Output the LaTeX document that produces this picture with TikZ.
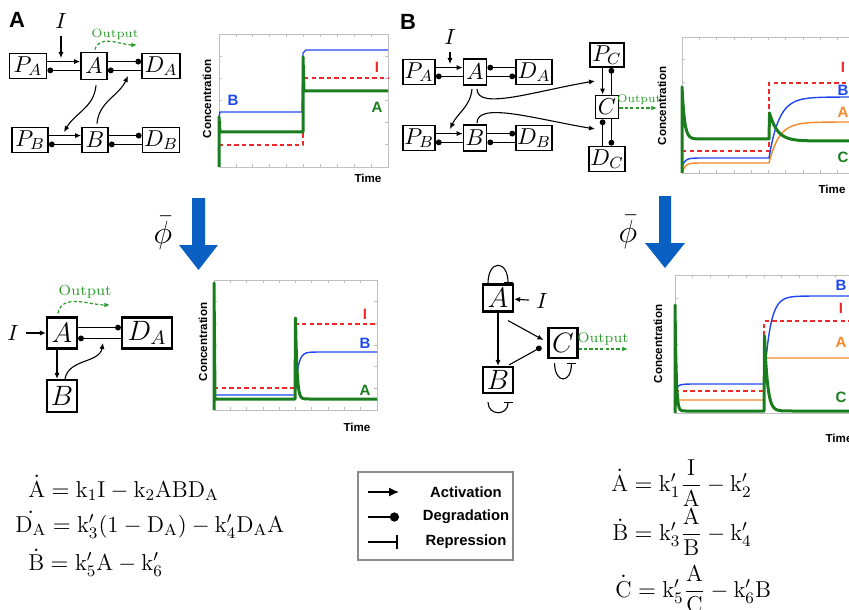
\RequirePackage{fix-cm}
\documentclass[tikz,border=0pt]{standalone}
\usepackage{amsmath}
\usepackage{fontspec}
\setsansfont{Liberation Sans}
\usetikzlibrary{arrows.meta}

\definecolor{concgreen}{RGB}{25,125,30}
\definecolor{concblue}{RGB}{30,70,240}
\definecolor{concred}{RGB}{240,40,40}
\definecolor{concorange}{RGB}{245,135,40}
\definecolor{outgreen}{RGB}{40,155,40}
\definecolor{arrowblue}{RGB}{10,95,195}

\tikzset{
  species/.style={draw, line width=0.9pt, inner sep=0pt, minimum width=13pt,
    minimum height=12.5pt, font=\fontsize{11.5}{12}\selectfont},
  bigspecies/.style={species, line width=1.1pt, minimum width=15pt,
    minimum height=15.5pt, font=\fontsize{14}{16}\selectfont},
  inputlab/.style={font=\fontsize{11}{12}\selectfont},
  act/.style={-{Latex[length=3pt,width=2.6pt]}, line width=0.55pt},
  deg/.style={-{Circle[length=2.9pt]}, line width=0.55pt},
  rep/.style={-{Bar[width=4.5pt]}, line width=0.55pt},
  outarrow/.style={-{Latex[length=2.8pt,width=2.4pt]}, outgreen, line width=0.6pt,
    dash pattern=on 1.6pt off 1.1pt},
  outtext/.style={text=outgreen, font=\fontsize{6}{7}\selectfont},
  panel/.style={font=\sffamily\bfseries\fontsize{11}{12}\selectfont},
  axlab/.style={font=\sffamily\bfseries\fontsize{5.8}{6}\selectfont},
  curvelab/.style={font=\sffamily\bfseries\fontsize{7.5}{8}\selectfont},
  axesframe/.style={draw=black!25, line width=0.4pt},
  gline/.style={concgreen, line width=1.5pt, line join=round},
  bline/.style={concblue, line width=0.7pt},
  oline/.style={concorange, line width=0.7pt},
  rline/.style={concred, line width=0.7pt, dash pattern=on 2.2pt off 1.6pt},
  eqn/.style={inner sep=0pt, anchor=base west, font=\fontsize{11.5}{14}\selectfont},
  legtext/.style={font=\sffamily\bfseries\fontsize{7.4}{8}\selectfont},
}

% frame of a concentration plot: x0, y0, x1, y1
\newcommand{\concbox}[4]{%
  \draw[axesframe] (#1,#2) rectangle (#3,#4);
  \foreach \k in {1,...,9}
    \draw[axesframe] ({#1+(#3-#1)*\k/10},#2) -- ++(0,3) ({#1+(#3-#1)*\k/10},#4) -- ++(0,-3);
  \foreach \k in {1,...,5}
    \draw[axesframe] (#1,{#2+(#4-#2)*\k/6}) -- ++(3,0) (#3,{#2+(#4-#2)*\k/6}) -- ++(-3,0);
}

\begin{document}
\begin{tikzpicture}[x=0.5pt,y=-0.5pt]
  \useasboundingbox (0,0) rectangle (849,609);

  % Panel A: full network
  \node[panel] at (17,20) {A};
  \node[species, minimum width=18.5pt] (PA1) at (28,66) {$P_A$};
  \node[species, minimum height=13.5pt] (A1) at (94,66) {$A$};
  \node[species, minimum width=19pt] (DA1) at (161,66) {$D_A$};
  \node[species, minimum width=18pt] (PB1) at (30,140) {$P_B$};
  \node[species] (B1) at (95,140) {$B$};
  \node[species, minimum width=18.5pt] (DB1) at (161,140) {$D_B$};
  \node[inputlab] (I1) at (61,21) {$I$};
  \coordinate (pa1in) at (61,58);
  \coordinate (pb1in) at (64,132);
  \coordinate (da1in) at (128,76);
  \coordinate (out1) at (137,45);
  \node[outtext] at (115,34) {Output};

  \draw[act] ([yshift=2.2pt]PA1.east) -- ([yshift=2.2pt]A1.west);
  \draw[deg] ([yshift=-2.2pt]A1.west) -- ([yshift=-2.2pt]PA1.east);
  \draw[deg] ([yshift=2.2pt]A1.east) -- ([yshift=2.2pt]DA1.west);
  \draw[deg] ([yshift=-2.2pt]DA1.west) -- ([yshift=-2.2pt]A1.east);
  \draw[act] ([yshift=2.2pt]PB1.east) -- ([yshift=2.2pt]B1.west);
  \draw[deg] ([yshift=-2.2pt]B1.west) -- ([yshift=-2.2pt]PB1.east);
  \draw[deg] ([yshift=2.2pt]B1.east) -- ([yshift=2.2pt]DB1.west);
  \draw[deg] ([yshift=-2.2pt]DB1.west) -- ([yshift=-2.2pt]B1.east);
  \draw[act] (I1) -- (pa1in);
  \draw[act] ([xshift=1pt,yshift=-2.5pt]A1.south) to[out=-95,in=60] (pb1in);
  \draw[act] ([xshift=1pt,yshift=1.5pt]B1.north) to[out=85,in=-115] (da1in);
  \draw[outarrow] ([xshift=0.5pt,yshift=1pt]A1.north) to[out=75,in=180] (out1);

  % Panel A: time course
  \concbox{219}{34}{388}{167}
  \draw[rline] (219,145) -- (303,145) -- (303,78) -- (388,78);
  \draw[bline] (219,117) -- (220,112) -- (302,112) -- (303,53) -- (306,50) -- (388,50);
  \draw[gline] (219,167) -- (219,117) -- (220,132) -- (303,132) -- (303,57) -- (304,91) -- (388,91);
  \node[curvelab, concblue] at (233,100) {B};
  \node[curvelab, concred] at (377,67) {I};
  \node[curvelab, concgreen] at (377,107) {A};
  \node[axlab, rotate=90] at (207,99) {Concentration};
  \node[axlab] at (368,178) {Time};

  % Panel B: full network
  \node[panel] at (408,22) {B};
  \node[species, minimum width=16pt] (PA2) at (419,72) {$P_A$};
  \node[species, minimum width=11.5pt, minimum height=13pt] (A2) at (475,72) {$A$};
  \node[species, minimum width=18pt] (DA2) at (534,72) {$D_A$};
  \node[species, minimum width=16pt] (PB2) at (419,138) {$P_B$};
  \node[species, minimum width=11.5pt, minimum height=13pt] (B2) at (475,138) {$B$};
  \node[species, minimum width=18pt] (DB2) at (534,138) {$D_B$};
  \node[species, minimum width=17pt, minimum height=12pt] (PC) at (607,55) {$P_C$};
  \node[species, minimum width=11.5pt, minimum height=11.5pt] (C) at (607,107) {$C$};
  \node[species, minimum width=18pt] (DC) at (607,159) {$D_C$};
  \node[inputlab] (I2) at (450,37) {$I$};
  \coordinate (pa2in) at (450,64);
  \coordinate (pb2in) at (450,129);
  \coordinate (pc2in) at (595,81);
  \coordinate (dc2in) at (595,129);
  \coordinate (out2) at (657,108);
  \node[outtext, font=\fontsize{5.6}{6}\selectfont] at (639,100) {Output};

  \draw[act] ([yshift=2.2pt]PA2.east) -- ([yshift=2.2pt]A2.west);
  \draw[deg] ([yshift=-2.2pt]A2.west) -- ([yshift=-2.2pt]PA2.east);
  \draw[deg] ([yshift=2.2pt]DA2.west) -- ([yshift=2.2pt]A2.east);
  \draw[deg] ([yshift=-2.2pt]A2.east) -- ([yshift=-2.2pt]DA2.west);
  \draw[act] ([yshift=2.2pt]PB2.east) -- ([yshift=2.2pt]B2.west);
  \draw[deg] ([yshift=-2.2pt]B2.west) -- ([yshift=-2.2pt]PB2.east);
  \draw[deg] ([yshift=2.2pt]B2.east) -- ([yshift=2.2pt]DB2.west);
  \draw[deg] ([yshift=-2.2pt]DB2.west) -- ([yshift=-2.2pt]B2.east);
  \draw[act] ([xshift=-2.2pt]PC.south) -- ([xshift=-2.2pt]C.north);
  \draw[deg] ([xshift=2.2pt]C.north) -- ([xshift=2.2pt]PC.south);
  \draw[deg] ([xshift=-2.2pt]DC.north) -- ([xshift=-2.2pt]C.south);
  \draw[deg] ([xshift=2.2pt]C.south) -- ([xshift=2.2pt]DC.north);
  \draw[act] (I2) -- (pa2in);
  \draw[act] ([xshift=-1.5pt,yshift=-1.5pt]A2.south) to[out=-95,in=65] (pb2in);
  \draw[act] ([xshift=1pt,yshift=-1.5pt]A2.south) .. controls +(0,22) and +(-60,10) .. (pc2in);
  \draw[act] ([xshift=1pt,yshift=0.5pt]B2.north) .. controls +(0,-22) and +(-60,-10) .. (dc2in);
  \draw[outarrow] ([yshift=-0.5pt]C.east) -- (out2);

  % Panel B: time course
  \concbox{682}{37}{855}{173}
  \draw[rline] (682,151) -- (769,151) -- (769,83) -- (856,83);
  \draw[oline] plot[domain=682:712,samples=30] (\x,{163+10*exp(-(\x-682)/3)}) -- (769,163)
    -- plot[domain=769:860,samples=50] (\x,{122+41*exp(-(\x-769)/10)});
  \draw[bline] plot[domain=682:712,samples=30] (\x,{158+9*exp(-(\x-682)/3)}) -- (769,158)
    -- plot[domain=769:860,samples=50] (\x,{97+61*exp(-(\x-769)/10)});
  \draw[gline] (682,173) -- plot[domain=682:707,samples=40] (\x,{139-52*exp(-(\x-682)/2.5)})
    -- (769,139) -- (769.5,113)
    -- plot[domain=769.5:845,samples=50] (\x,{141-28*exp(-(\x-769.5)/8)}) -- (856,141);
  \node[curvelab, concred] at (843,67) {I};
  \node[curvelab, concblue] at (843,90) {B};
  \node[curvelab, concorange] at (843,112) {A};
  \node[curvelab, concgreen] at (843,157) {C};
  \node[axlab, rotate=90] at (662,106) {Concentration};
  \node[axlab] at (832,189) {Time};

  % Reduction arrows
  \node[font=\fontsize{16}{18}\selectfont] at (163,233) {$\bar{\phi}$};
  \fill[arrowblue] (192,198) -- (205,198) -- (205,245) -- (218,245) -- (198.5,270)
    -- (179,245) -- (192,245) -- cycle;
  \node[font=\fontsize{16}{18}\selectfont] at (628,232) {$\bar{\phi}$};
  \fill[arrowblue] (659,196) -- (671,196) -- (671,243) -- (685,243) -- (665,268)
    -- (645,243) -- (659,243) -- cycle;

  % Panel A: reduced network
  \node[inputlab] (I3) at (13,333) {$I$};
  \node[bigspecies] (A3) at (62,333) {$A$};
  \node[bigspecies, minimum width=25pt] (DA3) at (147,333) {$D_A$};
  \node[bigspecies, minimum height=16pt] (B3) at (62,396) {$B$};
  \coordinate (da3in) at (103,343);
  \coordinate (out3) at (110,305);
  \node[outtext, font=\fontsize{7.3}{8}\selectfont] at (85,292) {Output};

  \draw[act] (I3) -- (A3);
  \draw[deg] ([yshift=2.7pt]A3.east) -- ([yshift=2.7pt]DA3.west);
  \draw[deg] ([yshift=-2.7pt]DA3.west) -- ([yshift=-2.7pt]A3.east);
  \draw[act] ([xshift=-2.5pt]A3.south) -- ([xshift=-2.5pt]B3.north);
  \draw[act] ([xshift=1.5pt]B3.north) to[out=80,in=-100] (da3in);
  \draw[outarrow] ([xshift=-2pt,yshift=1.5pt]A3.north) to[out=80,in=180] (out3);

  % Panel A: reduced time course
  \concbox{214}{280}{377}{410}
  \draw[rline] (214,388) -- (295,388) -- (295,324) -- (377,324);
  \draw[bline] (215,395) -- (295,395)
    -- plot[domain=295:325,samples=40] (\x,{352+43*exp(-(\x-295)/3)}) -- (377,352);
  \draw[gline] (214,410) -- (214,283) -- (215,399) -- (295,399) -- (295.5,318)
    -- plot[domain=295.5:310,samples=30] (\x,{399-81*exp(-(\x-295.5)/1.5)}) -- (377,399);
  \node[curvelab, concred] at (365,314) {I};
  \node[curvelab, concblue] at (365,343) {B};
  \node[curvelab, concgreen] at (365,390) {A};
  \node[axlab, rotate=90] at (203,342) {Concentration};
  \node[axlab] at (357,427) {Time};

  % Panel B: reduced network
  \node[bigspecies, minimum height=13.5pt] (A4) at (498,298) {$A$};
  \node[bigspecies, minimum height=13pt] (B4) at (498,380) {$B$};
  \node[bigspecies, minimum width=14.5pt, minimum height=15pt] (C4) at (563,343) {$C$};
  \node[inputlab] (I4) at (542,301) {$I$};
  \coordinate (out4) at (628,349);
  \node[outtext, font=\fontsize{7}{8}\selectfont] at (603,339) {Output};

  \draw[rep] ([xshift=-5pt]A4.north) .. controls +(0,-24) and +(0,-24) .. ([xshift=5pt]A4.north);
  \draw[rep] ([xshift=-5pt,yshift=-4pt]B4.south) .. controls +(0,14) and +(0,14) .. ([xshift=5pt,yshift=-4pt]B4.south);
  \draw[rep] ([xshift=-4.2pt,yshift=-2pt]C4.south) .. controls +(0,21) and +(0,21) .. ([xshift=4.2pt,yshift=-2pt]C4.south);
  \draw[act] (I4) -- (A4);
  \draw[act] (A4) -- (B4);
  \draw[act] ([xshift=-3pt,yshift=-4pt]A4.south east) -- ([xshift=-2pt,yshift=1.5pt]C4.west);
  \draw[deg] ([xshift=-2.5pt,yshift=0.5pt]B4.north east) -- ([xshift=-3pt,yshift=-2pt]C4.west);
  \draw[outarrow] ([yshift=-3pt]C4.east) -- (out4);

  % Panel B: reduced time course
  \concbox{675}{275}{853}{413}
  \draw[rline] (675,391) -- (764,391) -- (764,321) -- (856,321);
  \draw[oline] (675,400) -- (764,400) -- (765,358) -- (856,358);
  \draw[bline] plot[domain=675:700,samples=30] (\x,{384+6*exp(-(\x-675)/3)}) -- (764,384)
    -- plot[domain=764:820,samples=50] (\x,{296+88*exp(-(\x-764)/6)}) -- (856,296);
  \draw[gline] (675,413) -- plot[domain=675:690,samples=40] (\x,{411-106*exp(-(\x-675)/1.2)})
    -- (764,411) -- (764.5,336)
    -- plot[domain=764.5:795,samples=40] (\x,{411-75*exp(-(\x-764.5)/3)}) -- (856,411);
  \node[curvelab, concblue] at (841,285) {B};
  \node[curvelab, concred] at (841,308) {I};
  \node[curvelab, concorange] at (841,342) {A};
  \node[curvelab, concgreen] at (841,397) {C};
  \node[axlab, rotate=90] at (658,344) {Concentration};
  \node[axlab] at (839,438) {Time};

  % Equations
  \node[eqn] at (28,497) {$\dot{\mathrm{A}} = \mathrm{k_1I - k_2ABD_A}$};
  \node[eqn] at (15,532) {$\dot{\mathrm{D_A}} = \mathrm{k'_3(1 - D_A) - k'_4D_AA}$};
  \node[eqn] at (28,570) {$\dot{\mathrm{B}} = \mathrm{k'_5A - k'_6}$};
  \node[eqn] at (611,491) {$\dot{\mathrm{A}} = \mathrm{k'_1}\dfrac{\mathrm{I}}{\mathrm{A}} - \mathrm{k'_2}$};
  \node[eqn] at (612,540) {$\dot{\mathrm{B}} = \mathrm{k'_3}\dfrac{\mathrm{A}}{\mathrm{B}} - \mathrm{k'_4}$};
  \node[eqn] at (615,597) {$\dot{\mathrm{C}} = \mathrm{k'_5}\dfrac{\mathrm{A}}{\mathrm{C}} - \mathrm{k'_6B}$};

  % Legend
  \draw[draw=black!45, line width=0.9pt] (358,472) rectangle (513,560);
  \draw[-{Latex[length=5pt,width=4.6pt]}, line width=0.8pt] (368,492) -- (399,492);
  \draw[-{Circle[length=4.6pt]}, line width=0.8pt] (368,517) -- (399,517);
  \draw[-{Bar[width=7pt]}, line width=0.8pt] (368,542) -- (398,542);
  \node[legtext] at (466,492) {Activation};
  \node[legtext] at (466,517) {Degradation};
  \node[legtext] at (466,542) {Repression};
\end{tikzpicture}
\end{document}
